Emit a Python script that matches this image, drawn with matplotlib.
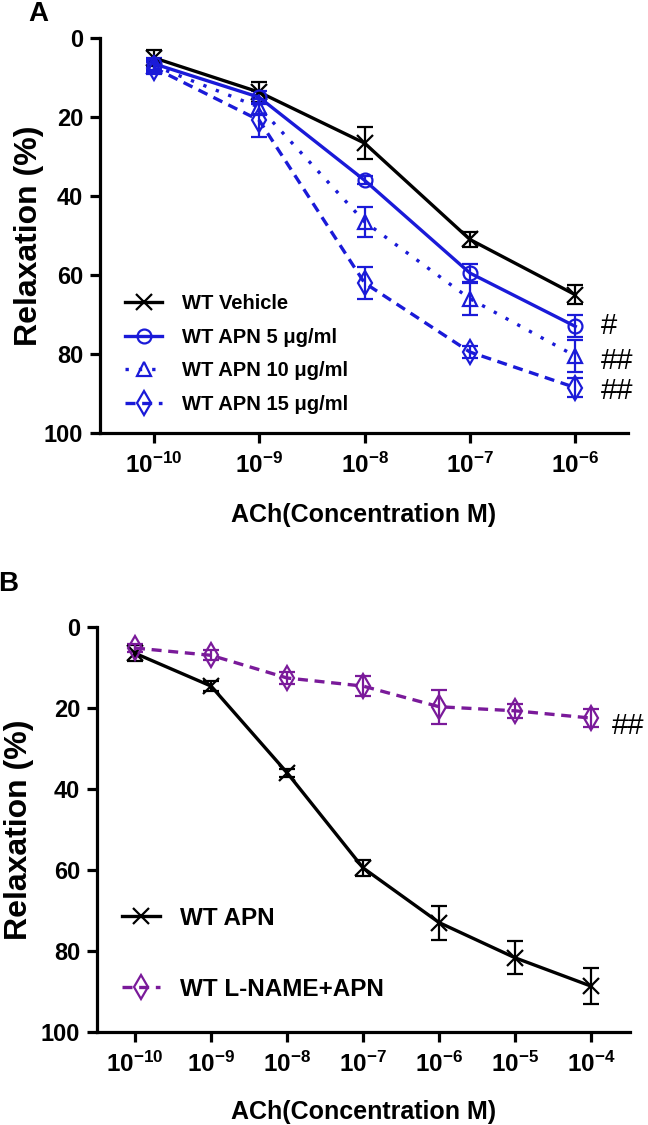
import matplotlib
matplotlib.use('Agg')
import matplotlib.pyplot as plt
from matplotlib import font_manager

# ---- data ----------------------------------------------------------------
conc_a = [1e-10, 1e-9, 1e-8, 1e-7, 1e-6]
vehicle = [5, 13.7, 26.6, 51, 65]
vehicle_err = [2, 2.5, 4, 1.8, 2.4]
apn5 = [6.5, 15, 36, 59.5, 73]
apn5_err = [1.5, 1.5, 1, 2.3, 2.8]
apn10 = [7, 17.5, 46.5, 66, 80.5]
apn10_err = [1.5, 2, 3.8, 4, 4]
apn15 = [7.5, 20.8, 62, 79.5, 88.5]
apn15_err = [1.5, 4.2, 4, 1.5, 2.4]

conc_b = [1e-10, 1e-9, 1e-8, 1e-7, 1e-6, 1e-5, 1e-4]
wt_apn = [6.5, 14.6, 36, 59.5, 73, 81.7, 88.7]
wt_apn_err = [2, 1.2, 1, 2, 4.2, 4.1, 4.5]
lname = [5.2, 7, 12.6, 14.6, 19.7, 20.7, 22.5]
lname_err = [1, 1.2, 1.5, 2.5, 4.2, 1.8, 2.2]

yticks = [0, 20, 40, 60, 80, 100]
xlabels_a = ['$10^{-10}$', '$10^{-9}$', '$10^{-8}$', '$10^{-7}$', '$10^{-6}$']
xlabels_b = ['$10^{-10}$', '$10^{-9}$', '$10^{-8}$', '$10^{-7}$', '$10^{-6}$',
             '$10^{-5}$', '$10^{-4}$']

# ---- fonts ---------------------------------------------------------------
names = set(f.name for f in font_manager.fontManager.ttflist)
narrow = 'Liberation Sans Narrow' if 'Liberation Sans Narrow' in names else 'Liberation Sans'
plt.rcParams['font.family'] = [narrow, 'DejaVu Sans']
plt.rcParams['mathtext.fontset'] = 'custom'
plt.rcParams['mathtext.rm'] = narrow + ':bold'
plt.rcParams['mathtext.bf'] = narrow + ':bold'
plt.rcParams['mathtext.default'] = 'rm'
wide = ['Liberation Sans', 'DejaVu Sans']

blue = '#1a1ad8'
purple = '#7a1a9a'


def style_axes(ax, xmin, xmax, ticks, labels, ylab_x, xlab_y):
    ax.set_xscale('log')
    ax.set_xlim(xmin, xmax)
    ax.set_ylim(100, 0)
    ax.set_yticks(yticks)
    ax.set_yticklabels([str(t) for t in yticks], fontsize=17, fontweight='bold')
    ax.set_xticks(ticks)
    ax.set_xticklabels(labels, fontsize=17.5)
    ax.minorticks_off()
    for s in ['top', 'right']:
        ax.spines[s].set_visible(False)
    for s in ['left', 'bottom']:
        ax.spines[s].set_linewidth(2.3)
    ax.tick_params(axis='y', direction='out', length=7, width=2.3, pad=5)
    ax.tick_params(axis='x', direction='out', length=7, width=2.3, pad=7)
    ax.set_ylabel('Relaxation (%)', fontsize=23, fontweight='bold', family=wide)
    ax.yaxis.set_label_coords(ylab_x, 0.5)
    ax.set_xlabel('ACh(Concentration M)', fontsize=18, fontweight='bold')
    ax.xaxis.set_label_coords(0.5, xlab_y)


def series(ax, x, y, err, color, ls, marker, label, ms=10):
    ax.errorbar(x, y, yerr=err, fmt='none', ecolor=color, elinewidth=1.6,
                capsize=6, capthick=1.6, zorder=3)
    ax.plot(x, y, color=color, ls=ls, lw=2.4, marker=marker, ms=ms,
            mfc='none', mec=color, mew=1.6, label=label, zorder=4)


fig = plt.figure(figsize=(6.48, 11.25), dpi=100)

# ---- panel A -------------------------------------------------------------
ax1 = fig.add_axes([0.1543, 0.6151, 0.8148, 0.3511])
series(ax1, conc_a, vehicle, vehicle_err, 'black', '-', 'x', 'WT Vehicle', ms=12)
series(ax1, conc_a, apn5, apn5_err, blue, '-', 'o', 'WT APN 5 \u03bcg/ml')
series(ax1, conc_a, apn10, apn10_err, blue, (0, (1, 3)), '^', 'WT APN 10 \u03bcg/ml')
series(ax1, conc_a, apn15, apn15_err, blue, (0, (3, 2)), 'd', 'WT APN 15 \u03bcg/ml', ms=12)
style_axes(ax1, 10 ** -10.51, 10 ** -5.5, conc_a, xlabels_a, -0.106, -0.178)

ax1.legend(loc='upper left', bbox_to_anchor=(0.193, 0.7386), bbox_transform=fig.transFigure,
           frameon=False, borderpad=0, borderaxespad=0, handlelength=1.85,
           handletextpad=1.0, labelspacing=0.72,
           prop={'family': wide, 'weight': 'bold', 'size': 14.5})

tr = ax1.get_yaxis_transform()
ax1.text(0.948, 73, '#', transform=tr, fontsize=21, va='center', family=wide)
ax1.text(0.948, 81.8, '##', transform=tr, fontsize=21, va='center', family=wide)
ax1.text(0.948, 89.3, '##', transform=tr, fontsize=21, va='center', family=wide)

fig.text(38 / 648, 1 - 14 / 1125, 'A', fontsize=20, fontweight='bold', ha='center',
         va='center', family=wide)

# ---- panel B -------------------------------------------------------------
ax2 = fig.add_axes([0.1497, 0.0827, 0.8225, 0.36])
series(ax2, conc_b, wt_apn, wt_apn_err, 'black', '-', 'x', 'WT APN', ms=12)
series(ax2, conc_b, lname, lname_err, purple, (0, (3, 2)), 'd', 'WT L-NAME+APN', ms=12)
style_axes(ax2, 10 ** -10.5, 10 ** -3.49, conc_b, xlabels_b, -0.118, -0.168)

ax2.legend(loc='upper left', bbox_to_anchor=(0.188, 0.1938), bbox_transform=fig.transFigure,
           frameon=False, borderpad=0, borderaxespad=0, handlelength=1.56,
           handletextpad=0.82, labelspacing=1.96,
           prop={'weight': 'bold', 'size': 17.5})

tr2 = ax2.get_yaxis_transform()
ax2.text(0.966, 24.5, '##', transform=tr2, fontsize=21, va='center', family=wide)

fig.text(8 / 648, 1 - 584 / 1125, 'B', fontsize=20, fontweight='bold', ha='center',
         va='center', family=wide)

fig.savefig('out.png', dpi=100)
